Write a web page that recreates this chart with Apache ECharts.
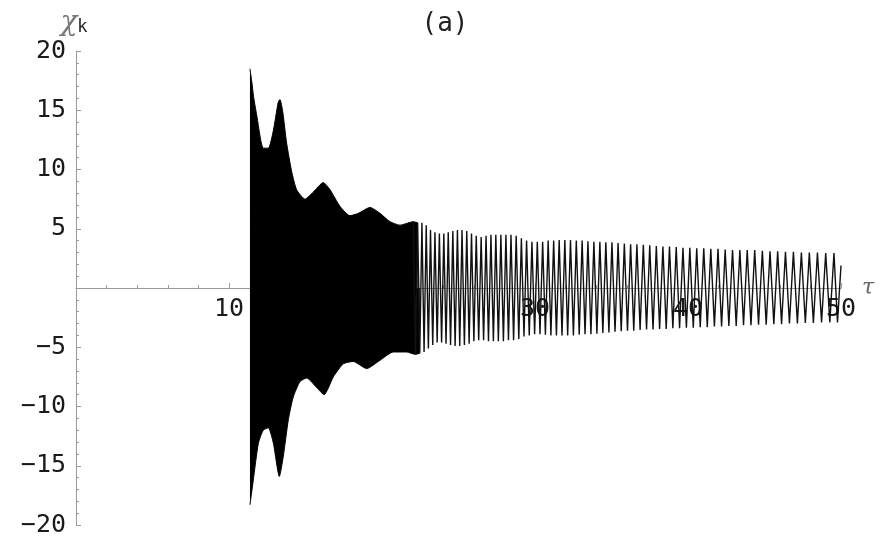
<!DOCTYPE html>
<html>
<head>
<meta charset="utf-8">
<script src="https://cdn.jsdelivr.net/npm/echarts@6/dist/echarts.min.js"></script>
<style>
html,body{margin:0;padding:0;background:#fff;}
#chart{width:879px;height:539px;}
</style>
</head>
<body>
<div id="chart"></div>
<script>
// ---- Data ----
// Dense (unresolved, solid black) part: upper envelope
var upperEnvT = [11.37, 11.50, 11.60, 11.81, 12.24, 12.57, 12.90, 13.22, 13.33, 13.51, 13.77, 14.10, 14.42, 14.97, 15.51, 16.16, 16.60, 17.25, 17.91, 18.45, 19.22, 19.87, 20.52, 21.18, 22.05, 22.33];
var upperEnvV = [18.5, 17.3, 16.2, 14.6, 11.8, 11.8, 13.3, 15.7, 15.9, 14.9, 12.2, 9.8, 8.3, 7.5, 8.1, 8.9, 8.3, 6.9, 6.1, 6.3, 6.8, 6.3, 5.6, 5.3, 5.6, 5.5];
// lower envelope
var lowerEnvT = [11.37, 11.59, 11.92, 12.24, 12.57, 12.90, 13.29, 13.55, 13.88, 14.20, 14.64, 15.08, 15.73, 16.21, 16.82, 17.47, 18.12, 19.00, 19.87, 20.74, 21.61, 22.19, 22.47];
var lowerEnvV = [-18.3, -16.2, -13.1, -12.0, -11.8, -13.1, -15.9, -14.2, -11.1, -9.2, -7.9, -7.6, -8.4, -9.0, -7.5, -6.4, -6.2, -6.8, -6.1, -5.4, -5.4, -5.6, -5.5];

// Resolved oscillation: crest positions / values
var crestT = [22.05,22.33,22.61,22.89,23.17,23.46,23.75,24.04,24.33,24.63,
  24.93,25.23,25.54,25.85,26.16,26.48,26.80,27.12,27.44,27.77,
  28.10,28.43,28.77,29.11,29.45,29.80,30.15,30.50,30.86,31.22,
  31.58,31.95,32.32,32.70,33.08,33.46,33.85,34.24,34.63,35.03,
  35.43,35.84,36.25,36.66,37.08,37.50,37.93,38.36,38.79,39.23,
  39.67,40.12,40.57,41.03,41.49,41.96,42.43,42.91,43.39,43.87,
  44.36,44.86,45.36,45.86,46.37,46.89,47.41,47.93,48.46,49.00,49.54];
var crestV = [5.6,5.5,5.5,5.3,4.9,4.7,4.6,4.6,4.7,4.8,
  4.9,4.9,4.8,4.6,4.4,4.3,4.4,4.5,4.5,4.5,
  4.5,4.5,4.4,4.2,4.0,3.9,3.9,3.9,4.0,4.0,
  4.05,4.05,4.05,4.0,4.0,3.95,3.9,3.9,3.85,3.85,
  3.8,3.75,3.7,3.7,3.65,3.6,3.55,3.5,3.5,3.45,
  3.4,3.4,3.35,3.35,3.3,3.3,3.25,3.2,3.2,3.2,
  3.2,3.15,3.1,3.1,3.05,3.05,3.0,3.0,3.0,2.95,2.95];
// trough positions / values
var troughT = [22.19,22.47,22.75,23.03,23.315,23.605,23.895,24.185,24.48,24.78,
  25.08,25.385,25.695,26.005,26.32,26.64,26.96,27.28,27.605,27.935,
  28.265,28.60,28.94,29.28,29.625,29.975,30.325,30.68,31.04,31.40,
  31.765,32.135,32.51,32.89,33.27,33.655,34.045,34.435,34.83,35.23,
  35.635,36.045,36.455,36.87,37.29,37.715,38.145,38.575,39.01,39.45,
  39.895,40.345,40.80,41.26,41.725,42.195,42.67,43.15,43.63,44.115,
  44.61,45.11,45.61,46.115,46.63,47.15,47.67,48.195,48.73,49.27,49.77];
var troughV = [-5.6,-5.5,-5.4,-5.1,-4.8,-4.6,-4.6,-4.7,-4.8,-4.9,
  -4.9,-4.8,-4.7,-4.5,-4.4,-4.4,-4.5,-4.5,-4.5,-4.5,
  -4.4,-4.4,-4.3,-4.1,-4.0,-3.9,-3.9,-3.95,-4.0,-4.0,
  -4.0,-4.0,-4.0,-3.95,-3.9,-3.9,-3.85,-3.8,-3.75,-3.7,
  -3.65,-3.6,-3.6,-3.55,-3.5,-3.5,-3.45,-3.45,-3.4,-3.4,
  -3.35,-3.35,-3.3,-3.3,-3.25,-3.25,-3.2,-3.2,-3.15,-3.15,
  -3.1,-3.1,-3.05,-3.05,-3.0,-3.0,-2.95,-2.95,-2.9,-2.9,-2.9];
var endPoint = [50.0, 1.9];

var xTickValues = [10, 20, 30, 40, 50];
var yTickValues = [-20, -15, -10, -5, 5, 10, 15, 20];
var titleText = '(a)';
var xName = 'τ';

// ---- Build series data ----
function pairs(t, v) { var o = []; for (var i = 0; i < t.length; i++) o.push([t[i], v[i]]); return o; }
var upperData = pairs(upperEnvT, upperEnvV);
var lowerData = pairs(lowerEnvT, lowerEnvV);
var waveData = pairs(crestT, crestV).concat(pairs(troughT, troughV));
waveData.sort(function (a, b) { return a[0] - b[0]; });
waveData.push(endPoint);

var GRID_TOP = 51, GRID_BOTTOM = 14, H = 539;
var plotH = H - GRID_TOP - GRID_BOTTOM;
var zeroOffset = -plotH / 2; // move x axis from the bottom edge up to y = 0

var chart = echarts.init(document.getElementById('chart'), null, { renderer: 'canvas' });
var mono = 'DejaVu Sans Mono';
var axisCol = '#9a9a9a';
chart.setOption({
  animation: false,
  backgroundColor: '#fff',
  title: {
    text: titleText, left: 440, top: 6, textAlign: 'center',
    textStyle: { fontFamily: mono, fontSize: 26, fontWeight: 'normal', color: '#222' }
  },
  grid: { left: 76, right: 38, top: GRID_TOP, bottom: GRID_BOTTOM, containLabel: false, outerBoundsMode: 'none' },
  xAxis: {
    type: 'value', min: 0, max: 50, interval: 10,
    position: 'bottom', offset: zeroOffset,
    name: xName, nameLocation: 'end', nameGap: 19,
    nameTextStyle: { fontFamily: 'DejaVu Serif', fontStyle: 'italic', fontSize: 22, color: '#666', padding: [4, 0, 0, 0] },
    axisLine: { onZero: false, lineStyle: { color: axisCol, width: 1 } },
    axisTick: { inside: true, length: 5, lineStyle: { color: axisCol } },
    minorTick: { show: true, splitNumber: 5, length: 3, lineStyle: { color: axisCol } },
    splitLine: { show: false },
    axisLabel: {
      margin: 9, fontFamily: mono, fontSize: 25, color: '#1a1a1a',
      formatter: function (v) { return xTickValues.indexOf(v) >= 0 ? String(v) : ''; }
    }
  },
  yAxis: {
    type: 'value', min: -20, max: 20, interval: 5,
    name: '{c|χ}{k|k}', nameLocation: 'end', nameGap: 14,
    nameTextStyle: {
      align: 'center', padding: [0, 0, 0, -4],
      rich: {
        c: { fontFamily: 'DejaVu Serif', fontStyle: 'italic', fontSize: 28, color: '#777' },
        k: { fontFamily: mono, fontSize: 17, color: '#222', padding: [10, 0, 0, 0] }
      }
    },
    axisLine: { show: true, onZero: false, lineStyle: { color: axisCol, width: 1 } },
    axisTick: { show: true, inside: true, length: 5, lineStyle: { color: axisCol } },
    minorTick: { show: true, splitNumber: 5, length: 3, lineStyle: { color: axisCol } },
    splitLine: { show: false },
    axisLabel: {
      margin: 10, fontFamily: mono, fontSize: 25, color: '#1a1a1a',
      formatter: function (v) { return yTickValues.indexOf(v) >= 0 ? String(v).replace('-', '−') : ''; }
    }
  },
  series: [
    {
      type: 'line', data: upperData, showSymbol: false, silent: true, smooth: 0.2,
      lineStyle: { color: '#000', width: 1 },
      areaStyle: { color: '#000', opacity: 1, origin: 'auto' }
    },
    {
      type: 'line', data: lowerData, showSymbol: false, silent: true, smooth: 0.2,
      lineStyle: { color: '#000', width: 1 },
      areaStyle: { color: '#000', opacity: 1, origin: 'auto' }
    },
    {
      type: 'line', data: waveData, showSymbol: false, silent: true,
      lineStyle: { color: '#111', width: 1.4 }
    }
  ]
});
</script>
</body>
</html>
